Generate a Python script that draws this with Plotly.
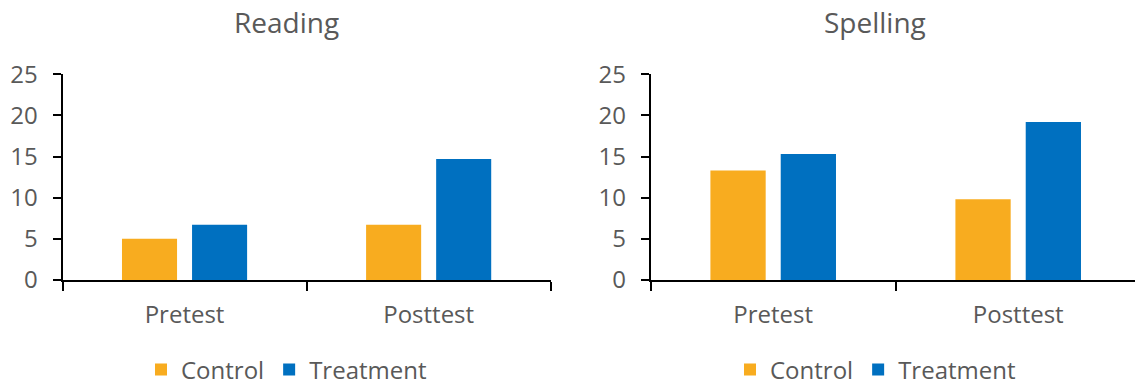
import plotly.graph_objects as go

W, H = 1135, 385

# Data
categories = ["Pretest", "Posttest"]
reading_control = [5.0, 6.7]
reading_treatment = [6.7, 14.7]
spelling_control = [13.3, 9.8]
spelling_treatment = [15.3, 19.2]
panel_titles = ["Reading", "Spelling"]
series_names = ["Control", "Treatment"]
y_ticks = [0, 5, 10, 15, 20, 25]

ORANGE = "#F8AC1F"
BLUE = "#0070C0"
TEXT = "#595959"
FONT = "Open Sans"


def px_x(x):
    return x / W


def px_y(y):
    return (H - y) / H


fig = go.Figure()

fig.add_trace(go.Bar(x=categories, y=reading_control, name=series_names[0],
                     marker=dict(color=ORANGE, line=dict(width=0)),
                     xaxis="x", yaxis="y", legend="legend"))
fig.add_trace(go.Bar(x=categories, y=reading_treatment, name=series_names[1],
                     marker=dict(color=BLUE, line=dict(width=0)),
                     xaxis="x", yaxis="y", legend="legend"))
fig.add_trace(go.Bar(x=categories, y=spelling_control, name=series_names[0],
                     marker=dict(color=ORANGE, line=dict(width=0)),
                     xaxis="x2", yaxis="y2", legend="legend2"))
fig.add_trace(go.Bar(x=categories, y=spelling_treatment, name=series_names[1],
                     marker=dict(color=BLUE, line=dict(width=0)),
                     xaxis="x2", yaxis="y2", legend="legend2"))

x_common = dict(
    type="category", showline=True, linecolor="black", linewidth=2,
    ticks="outside", tickson="boundaries", ticklen=9, tickwidth=2,
    tickcolor="black", showgrid=False, zeroline=False, ticklabelstandoff=12,
    tickfont=dict(family=FONT, size=24, color=TEXT),
)
y_common = dict(
    range=[0, 25], tickvals=y_ticks, showline=True, linecolor="black",
    linewidth=2, ticks="outside", ticklen=8, tickwidth=2, tickcolor="black",
    showgrid=False, zeroline=False, ticklabelstandoff=10,
    tickfont=dict(family=FONT, size=24, color=TEXT),
    domain=[px_y(280), px_y(74.3)],
)

legend_common = dict(
    orientation="h", xanchor="left", yanchor="middle",
    font=dict(family=FONT, size=24, color=TEXT),
    bgcolor="rgba(0,0,0,0)", traceorder="normal",
)

fig.update_layout(
    width=W, height=H,
    margin=dict(l=0, r=0, t=0, b=0, autoexpand=False),
    paper_bgcolor="white", plot_bgcolor="white",
    barmode="group", bargap=0.426, bargroupgap=0.214,
    font=dict(family=FONT, color=TEXT),
    xaxis=dict(x_common, domain=[px_x(62.5), px_x(550.7)], range=[-0.5, 1.5],
               anchor="y"),
    yaxis=dict(y_common, anchor="x"),
    xaxis2=dict(x_common, domain=[px_x(650.7), 1.0],
                range=[-0.5, -0.5 + (W - 650.7) / 245.0], anchor="y2"),
    yaxis2=dict(y_common, anchor="x2"),
    legend=dict(legend_common, x=px_x(141), y=px_y(370)),
    legend2=dict(legend_common, x=px_x(730), y=px_y(370)),
    annotations=[
        dict(text=panel_titles[0], x=px_x(286), y=px_y(22), xref="paper",
             yref="paper", showarrow=False, xanchor="center", yanchor="middle",
             font=dict(family=FONT, size=28, color=TEXT)),
        dict(text=panel_titles[1], x=px_x(875), y=px_y(22), xref="paper",
             yref="paper", showarrow=False, xanchor="center", yanchor="middle",
             font=dict(family=FONT, size=28, color=TEXT)),
    ],
)

fig.write_html("out.html")
